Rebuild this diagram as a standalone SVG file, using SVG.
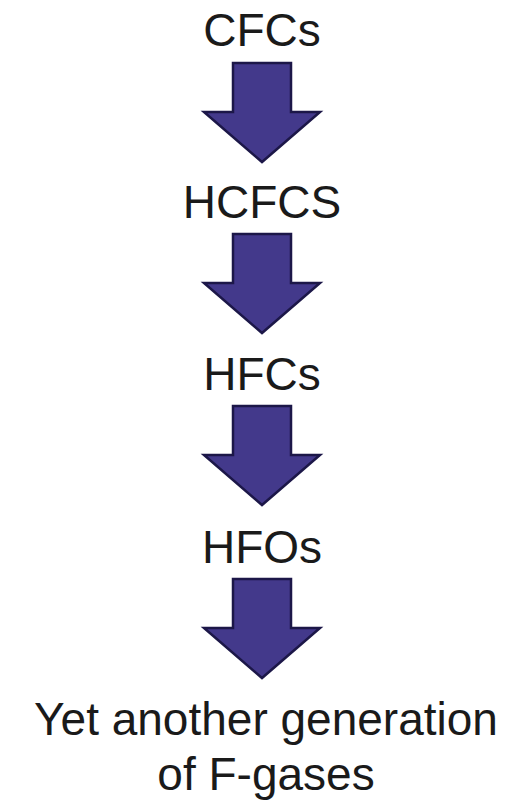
<svg xmlns="http://www.w3.org/2000/svg" width="510" height="803" viewBox="0 0 510 803">
<style>
.t{font-family:"Liberation Sans",Arial,sans-serif;font-size:46px;fill:#1a1a1a;text-anchor:middle}
.a{fill:#43398b;stroke:#1c1748;stroke-width:2.5;stroke-linejoin:miter}
</style>
<defs>
<path id="arr" d="M233,0 H291 V49 H320 L262,99 L204,49 H233 Z"/>
</defs>
<rect width="510" height="803" fill="#fff"/>
<g id="n1"><text class="t" x="262" y="46">CFCs</text></g>
<g id="n2"><text class="t" x="262" y="218">HCFCS</text></g>
<g id="n3"><text class="t" x="262" y="390">HFCs</text></g>
<g id="n4"><text class="t" x="262" y="563">HFOs</text></g>
<g id="n5"><text class="t" x="266" y="735">Yet another generation</text><text class="t" x="266" y="790">of F-gases</text></g>
<g id="connectors">
<use href="#arr" class="a" y="63"/>
<use href="#arr" class="a" y="234"/>
<use href="#arr" class="a" y="406"/>
<use href="#arr" class="a" y="579"/>
</g>
</svg>
